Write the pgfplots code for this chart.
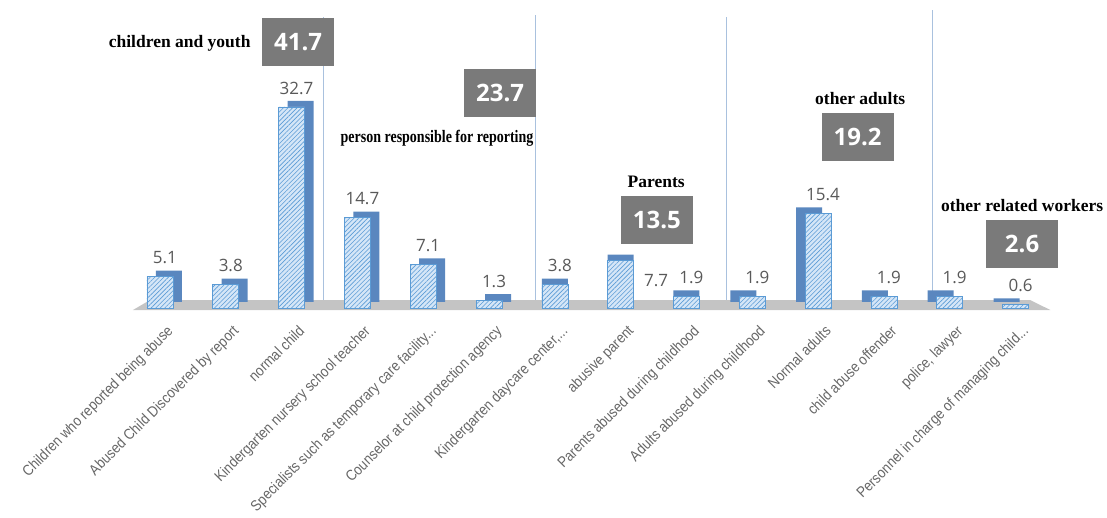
\documentclass[border=0pt]{standalone}
\usepackage{pgfplots}
\pgfplotsset{compat=1.18}
\usepackage{fontspec}
\setmainfont{Liberation Serif}
\newfontfamily\osans{Open Sans}
\newfontfamily\lsans[FakeStretch=0.88]{Liberation Sans}
\usetikzlibrary{patterns.meta}
\definecolor{barface}{HTML}{D5E6F7}
\definecolor{barline}{HTML}{5B9BD5}
\definecolor{barside}{HTML}{5A87BF}
\definecolor{boxgray}{HTML}{7A7A7A}
\definecolor{txtgray}{HTML}{595959}
\definecolor{labgray}{HTML}{666666}
\definecolor{sepline}{HTML}{A9C1DE}
\definecolor{floorgray}{HTML}{C4C4C4}
\begin{document}
\begin{tikzpicture}
\begin{axis}[
  scale only axis, width=1107pt, height=308pt,
  xmin=-2.43, xmax=14.39, ymin=0, ymax=50.08,
  clip=false,
  axis line style={draw=none},
  ytick=\empty,
  xtick={0,1,2,3,4,5,6,7,8,9,10,11,12,13},
  major tick length=0pt,
  xticklabels={{Children who reported being abuse},
    {Abused Child Discovered by report},
    {normal child},
    {Kindergarten nursery school teacher},
    {Specialists such as temporary care facility{.}{.}{.}},
    {Counselor at child protection agency},
    {Kindergarten daycare center,{.}{.}{.}},
    {abusive parent},
    {Parents abused during childhood},
    {Adults abused during childhood},
    {Normal adults},
    {child abuse offender},
    {police, lawyer},
    {Personnel in charge of managing child{.}{.}{.}}},
  xticklabel style={font=\lsans\fontsize{15}{15}\selectfont, text=labgray, inner sep=0pt,
    xshift=6pt, yshift=-16pt, rotate=45, anchor=north east},
]
% separators
\draw[sepline, line width=0.8pt] (axis cs:2.48,0) -- (axis cs:2.48,47.3);
\draw[sepline, line width=0.8pt] (axis cs:5.71,0) -- (axis cs:5.71,47.6);
\draw[sepline, line width=0.8pt] (axis cs:8.60,0) -- (axis cs:8.60,47.3);
\draw[sepline, line width=0.8pt] (axis cs:11.73,0) -- (axis cs:11.73,48.5);
% floor
\fill[floorgray] (axis cs:-0.41,-0.33) -- (axis cs:-0.15,1.3) -- (axis cs:13.22,1.3) -- (axis cs:13.53,-0.33) -- cycle;
% back (depth) of bars
\addplot[ybar, bar width=26pt, bar shift=0pt, fill=barside, draw=none, xshift=9pt, yshift=6pt]
  coordinates {(0,5.1)(1,3.8)(2,32.7)(3,14.7)(4,7.1)(5,1.3)};
\addplot[ybar, bar width=26pt, bar shift=0pt, fill=barside, draw=none, yshift=6pt]
  coordinates {(6,3.8)(7,7.7)(8,1.9)};
\addplot[ybar, bar width=26pt, bar shift=0pt, fill=barside, draw=none, xshift=-9pt, yshift=6pt]
  coordinates {(9,1.9)(10,15.4)(11,1.9)(12,1.9)(13,0.6)};
% front faces
\addplot[ybar, bar width=26pt, bar shift=0pt, fill=barface, draw=barline, line width=0.6pt,
  postaction={pattern={Lines[angle=45,distance=3.2pt,line width=0.6pt]}, pattern color=barline}]
  coordinates {(0,5.1)(1,3.8)(2,32.7)(3,14.7)(4,7.1)(5,1.3)(6,3.8)(7,7.7)(8,1.9)(9,1.9)(10,15.4)(11,1.9)(12,1.9)(13,0.6)};
% value labels
\addplot[draw=none, mark=none, nodes near coords, point meta=explicit symbolic,
  every node near coord/.append style={anchor=south, yshift=9pt, xshift=5pt, text=txtgray,
    font=\osans\fontsize{17}{17}\selectfont}]
  table[meta=l] {
x y l
0 5.1 5.1
1 3.8 3.8
2 32.7 32.7
3 14.7 14.7
4 7.1 7.1
5 1.3 1.3
6 3.8 3.8
8 1.9 1.9
9 1.9 1.9
10 15.4 15.4
11 1.9 1.9
12 1.9 1.9
13 0.6 0.6
};
\addplot[draw=none, mark=none, nodes near coords, point meta=explicit symbolic,
  every node near coord/.append style={anchor=north west, yshift=-10pt, xshift=20pt, text=txtgray,
    font=\osans\fontsize{17}{17}\selectfont}]
  table[meta=l] {
x y l
7 7.7 7.7
};
% group labels
\node[font=\bfseries\fontsize{17.5}{17.5}\selectfont, anchor=east] at (axis cs:1.43,43.1) {children and youth};
\node[font=\bfseries\fontsize{17.5}{17.5}\selectfont] at (axis cs:4.21,27.6) {\scalebox{0.8}[1]{person responsible for reporting}};
\node[font=\bfseries\fontsize{17.5}{17.5}\selectfont] at (axis cs:7.54,20.5) {Parents};
\node[font=\bfseries\fontsize{17.5}{17.5}\selectfont] at (axis cs:10.64,34.1) {other adults};
\node[font=\bfseries\fontsize{17.5}{17.5}\selectfont] at (axis cs:13.1,16.7) {other related workers};
% boxes
\tikzset{gbox/.style={fill=boxgray, text=white, font=\osans\bfseries\fontsize{24}{24}\selectfont,
  minimum width=72pt, minimum height=48pt, inner sep=0pt}}
\node[gbox] at (axis cs:2.10,43.2) {41.7};
\node[gbox] at (axis cs:5.17,35.0) {23.7};
\node[gbox] at (axis cs:7.55,14.3) {13.5};
\node[gbox] at (axis cs:10.6,27.8) {19.2};
\node[gbox] at (axis cs:13.1,10.4) {2.6};
\end{axis}
\pgfresetboundingbox
\path (0pt,-210pt) rectangle (1107pt,308pt);
\end{tikzpicture}
\end{document}
